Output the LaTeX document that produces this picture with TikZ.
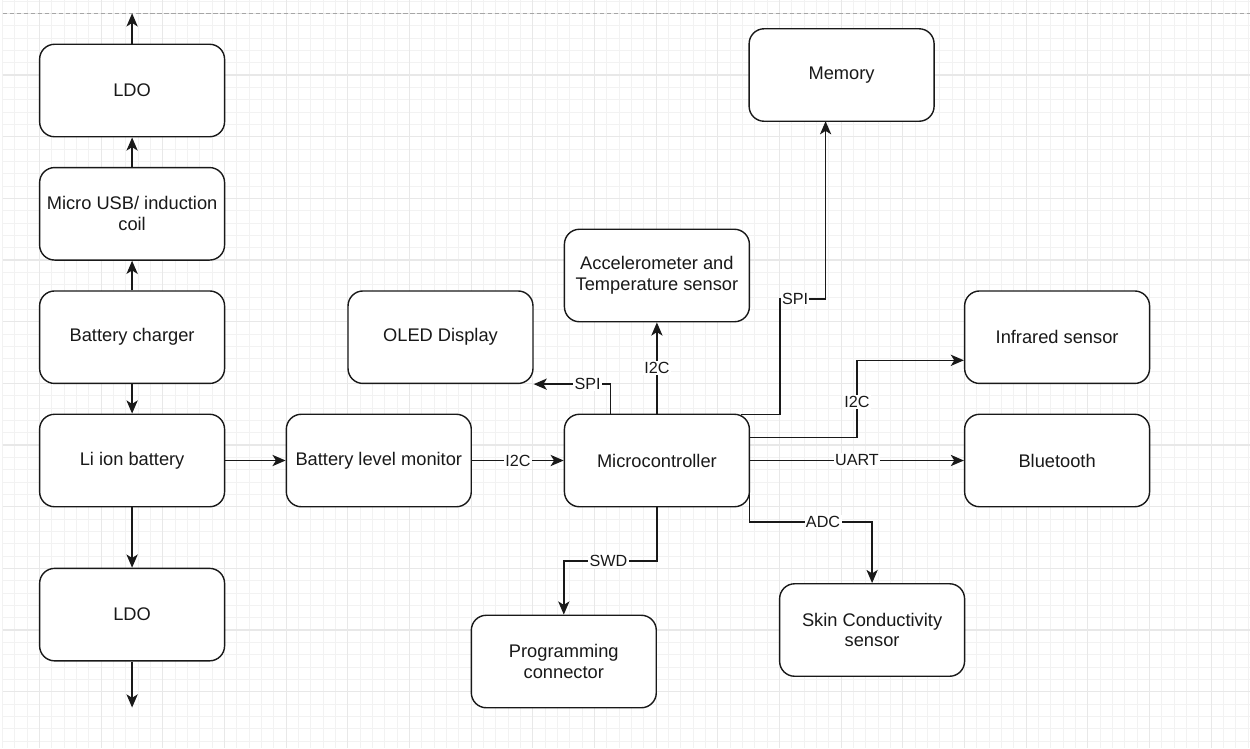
\documentclass[tikz,border=0pt]{standalone}
\usepackage{fontspec}
\setmainfont{Liberation Sans}
\usetikzlibrary{arrows.meta,calc}

\begin{document}
\begin{tikzpicture}[x=0.02cm,y=-0.02cm,
		block/.style={draw=black!90, line width=0.8pt, fill=white, rounded corners=0.3cm, minimum width=3.7cm, minimum height=1.85cm, align=center, inner sep=1pt, text=black!90, font=\fontsize{10.4}{11.8}\selectfont},
		wire/.style={draw=black!90, line width=0.8pt, -{Stealth[length=7.5pt,width=6.4pt,inset=2pt]}},
		busname/.style={fill=white, inner sep=0.8pt, text=black!90, font=\fontsize{9.2}{10}\selectfont}]
		\useasboundingbox (0,0) rectangle (1250,748);

		% background grid
		\foreach \i in {0,...,101} \draw[black!5, line width=0.5pt] ({2.6+12.333*\i},0) -- ({2.6+12.333*\i},748);
		\foreach \j in {0,...,60} \draw[black!5, line width=0.5pt] (2.6,{0.97+12.333*\j}) -- (1250,{0.97+12.333*\j});
		\foreach \i in {0,...,19} \draw[black!9, line width=0.6pt] ({39.6+61.667*\i},0) -- ({39.6+61.667*\i},748);
		\foreach \j in {0,...,11} \draw[black!9, line width=0.6pt] (2.6,{13.3+61.667*\j}) -- (1250,{13.3+61.667*\j});
		\draw[black!35, line width=0.6pt, dash pattern=on 2.5pt off 1.5pt] (2.6,13.3) -- (1250,13.3);

		% power path
		\node[block] (ldotop) at (132.1,90.5) {LDO};
		\node[block] (usb) at (132.1,213.8) {Micro USB/ induction\\coil};
		\node[block] (charger) at (132.1,337.2) {Battery charger};
		\node[block] (battery) at (132.1,460.5) {Li ion battery};
		\node[block] (ldobot) at (132.1,614.6) {LDO};
		\node[block] (monitor) at (378.8,460.5) {Battery level monitor};

		% controller and peripherals
		\node[block] (mcu) at (656.9,460.5) {Microcontroller};
		\node[block] (oled) at (440.5,337.2) {OLED Display};
		\node[block] (accel) at (656.9,275.5) {Accelerometer and\\Temperature sensor};
		\node[block] (memory) at (841.6,75) {Memory};
		\node[block] (infrared) at (1057.1,337.2) {Infrared sensor};
		\node[block] (bluetooth) at (1057.1,460.5) {Bluetooth};
		\node[block] (skin) at (872.1,630) {Skin Conductivity\\sensor};
		\node[block] (prog) at (563.8,661.5) {Programming\\connector};

		\coordinate (outtop) at (132.1,13.3);
		\coordinate (outbot) at (132.1,707.5);
		\coordinate (mcuoled) at (610.7,414.3);
		\coordinate (mcumem) at (741,414.3);
		\coordinate (mcuir) at (749.4,437.4);
		\coordinate (mcuadc) at (749.4,495);

		\draw[wire] (ldotop.north) -- (outtop);
		\draw[wire] (usb.north) -- (ldotop.south);
		\draw[wire] (charger.north) -- (usb.south);
		\draw[wire] (charger.south) -- (battery.north);
		\draw[wire] (battery.south) -- (ldobot.north);
		\draw[wire] (ldobot.south) -- (outbot);
		\draw[wire] (battery.east) -- (monitor.west);
		\draw[wire] (monitor.east) -- node[busname]{I2C} (mcu.west);

		\draw[wire] (mcu.north) -- node[busname]{I2C} (accel.south);
		\draw[wire] (mcuoled) |- node[busname, pos=0.65]{SPI} (oled.south east);
		\draw[wire] (mcumem) -| (780,299) -- node[busname, pos=0.33]{SPI} (825.6,299) -- (825.6,121.2);
		\draw[wire] (mcuir) -| node[busname, pos=0.73]{I2C} (857,360.3) -- ($(infrared.west)+(0,23.1)$);
		\draw[wire] (mcu.east) -- node[busname]{UART} (bluetooth.west);
		\draw[wire] (mcuadc) |- node[busname, pos=0.8]{ADC} ($(skin.north)+(0,-61)$) -- (skin.north);
		\draw[wire] (mcu.south) |- node[busname, pos=0.76]{SWD} ($(prog.north)+(0,-53.5)$) -- (prog.north);
	\end{tikzpicture}
\end{document}
